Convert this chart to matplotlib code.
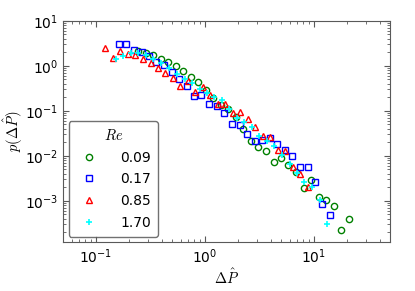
import matplotlib as mpl
mpl.use('Agg')
import matplotlib.pyplot as plt
import numpy as np

mpl.rcParams['mathtext.fontset'] = 'cm'
mpl.rcParams['xtick.direction'] = 'in'
mpl.rcParams['ytick.direction'] = 'in'
mpl.rcParams['xtick.top'] = True
mpl.rcParams['ytick.right'] = True

# Re = 0.09
x_009 = [0.244, 0.286, 0.333, 0.392, 0.461, 0.538, 0.632, 0.739, 0.868, 1.015,
         1.197, 1.402, 1.639, 1.912, 2.232, 2.626, 3.083, 3.605, 4.268, 4.981,
         5.811, 6.795, 8.096, 9.445, 11.11, 12.89, 15.16, 17.81, 20.95]
y_009 = [2.096, 1.929, 1.704, 1.436, 1.211, 1.016, 0.772, 0.575, 0.430, 0.296,
         0.198, 0.138, 0.108, 0.0733, 0.0400, 0.0210, 0.0157, 0.01296, 0.00722, 0.00888,
         0.00628, 0.00430, 0.00194, 0.00289, 0.00122, 0.00106, 0.00078, 0.000225, 0.000384]

# Re = 0.17
x_017 = [0.1636, 0.1897, 0.2232, 0.2626, 0.3063, 0.3574, 0.4205, 0.4950, 0.5774, 0.6796,
         0.7977, 0.929, 1.088, 1.288, 1.503, 1.769, 2.081, 2.444, 2.858, 3.355,
         3.923, 4.606, 5.420, 6.322, 7.439, 8.754, 10.21, 11.97, 14.02]
y_017 = [3.011, 3.011, 2.207, 2.032, 1.652, 1.211, 1.037, 0.745, 0.510, 0.350,
         0.215, 0.2265, 0.1385, 0.1263, 0.0879, 0.0505, 0.0472, 0.0307, 0.0217, 0.0229,
         0.0247, 0.0186, 0.01315, 0.0100, 0.00575, 0.00575, 0.0026, 0.000834, 0.000472]

# Re = 0.85
x_085 = [0.1209, 0.1423, 0.1671, 0.1965, 0.2294, 0.270, 0.3177, 0.3705, 0.4296, 0.5054,
         0.5934, 0.694, 0.815, 0.953, 1.118, 1.316, 1.536, 1.795, 2.108, 2.480,
         2.894, 3.405, 3.973, 4.645, 5.455, 6.418, 7.485, 8.810]
y_085 = [2.538, 1.489, 2.173, 1.794, 1.704, 1.436, 1.186, 0.888, 0.685, 0.529,
         0.361, 0.467, 0.2646, 0.332, 0.223, 0.140, 0.142, 0.0892, 0.0925, 0.0668,
         0.0448, 0.0281, 0.0263, 0.01343, 0.01296, 0.00551, 0.00394, 0.00199]

# Re = 1.70
x_170 = [0.1516, 0.178, 0.2081, 0.2443, 0.287, 0.337, 0.3957, 0.4645, 0.5595, 0.6555,
         0.768, 0.900, 1.043, 1.217, 1.426, 1.660, 1.953, 2.294, 2.699, 3.162,
         3.706, 4.341, 5.087, 5.985, 7.028, 8.147, 9.647, 11.28, 13.16]
y_170 = [1.414, 1.652, 1.929, 1.96, 1.722, 1.436, 1.168, 0.902, 0.661, 0.510,
         0.4087, 0.304, 0.247, 0.201, 0.1704, 0.1098, 0.0704, 0.0560, 0.0426, 0.0271,
         0.0210, 0.0168, 0.01053, 0.00651, 0.00409, 0.00265, 0.00198, 0.00106, 0.000307]

labels = ['0.09', '0.17', '0.85', '1.70']

fig = plt.figure(figsize=(4.15, 2.91), dpi=100)
ax = fig.add_axes([0.152, 0.168, 0.788, 0.76])

ax.plot(x_009, y_009, 'o', mfc='none', mec='green', mew=1.0, ms=4.5, label=labels[0])
ax.plot(x_017, y_017, 's', mfc='none', mec='blue', mew=1.0, ms=5, label=labels[1])
ax.plot(x_085, y_085, '^', mfc='none', mec='red', mew=1.0, ms=5, label=labels[2])
ax.plot(x_170, y_170, '+', color='cyan', mew=1.2, ms=5, label=labels[3])

ax.set_xscale('log')
ax.set_yscale('log')
ax.set_xlim(0.05, 50)
ax.set_ylim(1.2e-4, 10)

for s in ax.spines.values():
    s.set_color('0.35')
ax.tick_params(which='both', colors='0.35', labelcolor='black', labelsize=10)
ax.tick_params(which='major', length=4)
ax.tick_params(which='minor', length=2)

ax.set_xlabel(r'$\Delta\hat{P}$', fontsize=10.5)
ax.set_ylabel(r'$p(\Delta\hat{P})$', fontsize=10.5)
ax.xaxis.set_label_coords(0.5, -0.115)
ax.yaxis.set_label_coords(-0.115, 0.5)

leg = ax.legend(loc='lower left', title=r'$Re$', numpoints=1, fontsize=10,
                fancybox=True, borderaxespad=0.4, handletextpad=1.2,
                labelspacing=0.55, borderpad=0.5)
leg.get_title().set_fontsize(10.5)
leg.get_frame().set_edgecolor('0.3')

fig.savefig('out.png', dpi=100)
